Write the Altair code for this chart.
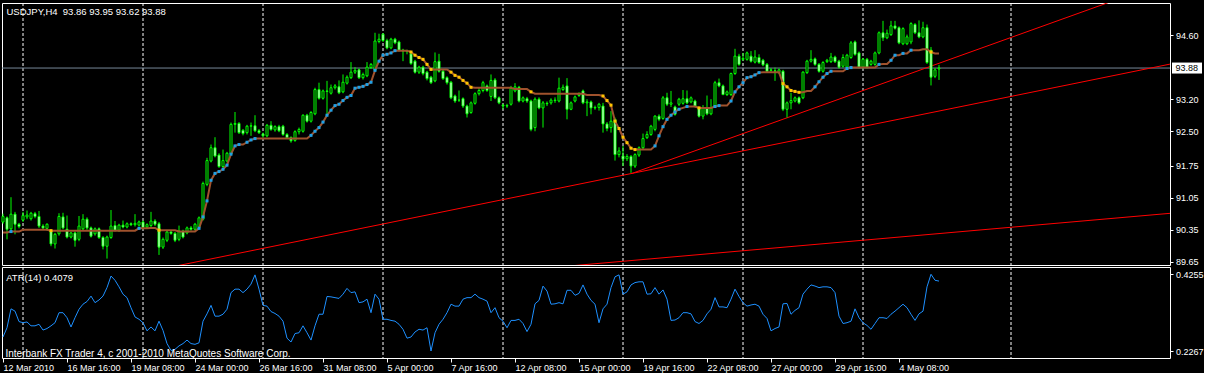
import altair as alt
import pandas as pd

symbol = "USDJPY,H4"

opens = [90.52,90.61,90.37,90.69,90.47,90.56,90.63,90.59,90.70,90.64,
90.43,90.38,90.32,90.04,90.26,90.63,90.36,90.19,90.28,90.14,
90.37,90.58,90.39,90.26,90.37,90.18,89.99,90.18,90.44,90.34,
90.45,90.41,90.48,90.46,90.45,90.52,90.41,90.44,90.54,90.48,
89.97,90.12,90.30,90.27,90.14,90.32,90.28,90.39,90.36,90.41,
90.58,91.34,91.85,92.14,91.98,91.73,91.85,92.00,92.65,92.67,
92.52,92.47,92.61,92.62,92.51,92.44,92.40,92.63,92.53,92.60,
92.61,92.43,92.36,92.30,92.49,92.50,92.85,92.72,92.88,93.41,
93.22,93.38,93.33,93.45,93.47,93.36,93.55,93.67,93.79,93.84,
93.67,93.71,93.89,93.83,94.46,94.62,94.48,94.32,94.51,94.45,
94.27,94.25,94.19,94.03,93.79,93.90,93.79,93.68,93.60,94.03,
93.81,93.67,93.57,93.27,93.18,93.21,93.05,92.91,93.11,93.32,
93.39,93.49,93.26,93.62,93.23,93.07,93.05,93.09,93.38,93.46,
93.16,93.21,93.16,92.58,93.20,93.01,93.11,93.12,93.18,93.16,
93.41,93.49,92.98,93.16,93.28,93.38,93.12,93.14,93.01,93.02,
93.05,92.66,92.58,92.76,91.99,91.96,91.90,91.95,91.74,91.98,
92.14,92.36,92.43,92.54,92.83,92.78,93.23,93.09,93.03,93.09,
93.11,93.21,93.14,93.16,93.00,92.83,93.00,92.88,93.05,93.56,
93.49,93.30,93.30,93.76,94.14,94.07,94.07,94.14,94.01,94.11,
94.05,93.96,93.83,93.82,93.78,93.81,92.98,93.12,93.16,93.23,
93.23,93.78,94.03,94.08,93.96,93.81,94.02,94.02,94.12,94.03,
93.92,93.90,94.11,94.45,94.21,93.90,94.07,93.96,93.96,94.21,
94.65,94.54,94.61,94.80,94.76,94.41,94.41,94.45,94.83,94.65,
94.56,94.76,94.27,93.70,93.86]

highs = [90.70,90.64,91.06,90.74,90.50,90.74,90.77,90.74,90.74,90.76,
90.47,90.49,90.36,90.28,90.71,90.72,90.66,90.30,90.31,90.65,
90.69,90.62,90.42,90.40,90.40,90.21,90.22,90.78,90.54,90.48,
90.55,90.51,90.51,90.69,90.55,90.55,90.49,90.74,90.58,90.52,
90.18,90.33,90.34,90.30,90.44,90.35,90.42,90.43,90.50,90.64,
91.40,91.92,92.21,92.37,92.02,92.10,92.05,92.69,92.92,92.70,
92.55,92.64,92.69,92.85,92.55,92.47,92.66,92.72,92.63,92.64,
92.64,92.46,92.39,92.52,92.58,92.87,92.88,92.94,93.45,93.56,
93.41,93.60,93.52,93.53,93.61,93.74,93.72,94.01,93.90,93.87,
93.78,94.01,93.99,94.65,94.63,94.64,94.52,94.54,94.54,94.48,
94.30,94.28,94.22,94.06,93.93,93.93,93.82,93.71,94.22,94.19,
93.85,93.70,93.60,93.30,93.39,93.24,93.08,93.15,93.35,93.45,
93.60,93.52,93.74,93.66,93.26,93.10,93.10,93.49,93.55,93.49,
93.26,93.25,93.19,93.24,93.24,93.16,93.15,93.22,93.24,93.67,
93.52,93.66,93.15,93.28,93.35,93.41,93.20,93.17,93.06,93.12,
93.12,92.70,92.94,92.80,92.15,92.18,92.00,91.98,92.02,92.17,
92.45,92.50,92.64,92.85,92.87,93.27,93.34,93.38,93.06,93.23,
93.40,93.39,93.26,93.19,93.03,93.07,93.28,93.20,93.60,93.65,
93.52,93.39,93.78,94.30,94.19,94.21,94.24,94.25,94.27,94.18,
94.08,93.99,93.88,93.89,93.87,93.84,93.15,93.34,93.26,93.26,
93.81,94.06,94.27,94.11,93.99,94.03,94.08,94.21,94.15,94.06,
94.18,94.19,94.47,94.48,94.24,94.10,94.10,94.06,94.24,94.68,
94.91,94.72,94.91,94.91,94.79,94.77,94.61,94.88,94.86,94.92,
94.89,94.83,94.34,93.88,93.95]

lows = [90.48,90.14,90.33,90.25,90.38,90.52,90.58,90.55,90.60,90.39,
90.36,90.33,89.99,89.94,90.22,90.36,90.16,90.16,89.98,90.10,
90.33,90.35,90.18,90.22,90.15,89.92,89.72,90.15,90.31,90.30,
90.38,90.38,90.43,90.42,90.42,90.36,90.38,90.41,90.43,89.80,
89.93,90.08,90.24,90.08,90.10,90.16,90.25,90.33,90.33,90.38,
90.55,91.30,91.82,91.93,91.70,91.70,91.82,91.97,92.47,92.44,
92.41,92.43,92.40,92.48,92.44,92.36,92.37,92.51,92.49,92.48,
92.40,92.33,92.25,92.27,92.43,92.47,92.69,92.69,92.85,93.19,
93.19,92.87,93.30,93.41,93.31,93.33,93.52,93.64,93.75,93.64,
93.63,93.68,93.86,93.80,94.42,94.45,94.29,94.29,94.40,94.24,
94.03,94.18,93.95,93.76,93.75,93.72,93.61,93.53,93.57,93.78,
93.62,93.52,93.20,93.12,93.14,93.01,92.80,92.88,93.08,93.28,
93.35,93.36,93.16,93.20,93.09,92.98,93.01,93.06,93.35,93.13,
93.13,93.12,92.50,92.50,92.98,92.58,93.05,93.08,93.12,93.13,
93.38,92.76,92.96,93.13,93.25,93.09,92.83,92.87,92.97,92.95,
92.47,92.50,92.47,91.86,91.93,91.74,91.85,91.59,91.70,91.94,
92.11,92.33,92.40,92.50,92.72,92.75,93.05,93.03,92.84,93.05,
93.08,93.09,93.11,93.02,92.80,92.76,92.85,92.85,93.02,93.46,
93.29,93.27,93.27,93.73,93.93,94.04,94.04,94.00,93.98,93.97,
93.92,93.78,93.80,93.60,93.75,92.94,92.80,92.98,93.13,93.09,
93.20,93.75,94.00,93.93,93.78,93.78,93.99,93.99,93.99,93.87,
93.89,93.87,94.08,94.15,93.87,93.87,93.87,93.93,93.93,94.18,
94.47,94.51,94.58,94.72,94.40,94.38,94.38,94.40,94.62,94.53,
94.53,93.97,93.50,93.66,93.62]

closes = [90.64,90.36,90.69,90.47,90.42,90.66,90.67,90.71,90.64,90.43,
90.39,90.47,90.04,90.25,90.64,90.39,90.19,90.28,90.12,90.43,
90.58,90.39,90.21,90.37,90.18,89.99,90.19,90.43,90.34,90.45,
90.41,90.48,90.46,90.49,90.52,90.40,90.46,90.54,90.47,89.97,
90.14,90.30,90.27,90.12,90.32,90.19,90.39,90.36,90.47,90.61,
91.36,91.86,92.14,91.96,91.73,91.86,92.02,92.65,92.67,92.47,
92.45,92.61,92.62,92.51,92.47,92.40,92.63,92.54,92.60,92.51,
92.43,92.36,92.29,92.49,92.54,92.85,92.72,92.91,93.41,93.22,
93.38,93.37,93.45,93.49,93.34,93.57,93.68,93.79,93.83,93.67,
93.74,93.90,93.96,94.47,94.51,94.48,94.32,94.51,94.43,94.27,
94.25,94.24,93.98,93.79,93.90,93.76,93.65,93.56,94.02,93.81,
93.65,93.56,93.23,93.16,93.18,93.05,92.88,93.12,93.32,93.39,
93.56,93.39,93.61,93.23,93.12,93.05,93.06,93.44,93.47,93.16,
93.23,93.16,92.54,93.20,93.01,93.12,93.10,93.18,93.17,93.44,
93.46,92.98,93.12,93.25,93.32,93.12,93.14,93.01,93.02,93.09,
92.66,92.56,92.72,91.99,92.07,91.89,91.95,91.74,91.99,92.14,
92.34,92.43,92.61,92.83,92.76,93.23,93.09,93.12,92.87,93.20,
93.21,93.12,93.23,93.05,92.83,93.00,92.88,93.01,93.56,93.49,
93.30,93.36,93.76,94.14,93.96,94.09,94.21,94.03,94.12,94.00,
93.95,93.81,93.84,93.81,93.84,92.98,93.12,93.17,93.23,93.12,
93.79,94.03,94.07,93.96,93.81,94.00,94.05,94.12,94.02,93.90,
94.11,94.16,94.43,94.18,93.90,94.07,93.90,94.03,94.21,94.65,
94.54,94.64,94.80,94.75,94.43,94.74,94.56,94.85,94.65,94.56,
94.76,94.00,93.68,93.84,93.88]

trend_ma = [90.29,90.29,90.31,90.31,90.31,90.35,90.35,90.35,90.35,90.35,
90.35,90.35,90.33,90.33,90.33,90.33,90.33,90.33,90.33,90.33,
90.33,90.33,90.33,90.33,90.33,90.33,90.33,90.33,90.33,90.33,
90.33,90.33,90.33,90.33,90.38,90.38,90.38,90.39,90.39,90.34,
90.34,90.34,90.34,90.34,90.31,90.31,90.31,90.31,90.31,90.38,
90.63,90.98,91.43,91.58,91.62,91.67,91.76,92.00,92.18,92.21,
92.21,92.26,92.31,92.34,92.34,92.34,92.34,92.34,92.34,92.34,
92.34,92.34,92.34,92.34,92.34,92.34,92.34,92.41,92.50,92.58,
92.70,92.85,92.96,93.06,93.09,93.17,93.24,93.28,93.44,93.46,
93.48,93.52,93.57,93.83,94.03,94.16,94.18,94.21,94.26,94.26,
94.26,94.26,94.23,94.16,94.11,94.07,93.96,93.85,93.85,93.85,
93.85,93.85,93.79,93.72,93.68,93.61,93.55,93.46,93.45,93.45,
93.45,93.45,93.45,93.45,93.45,93.45,93.45,93.45,93.42,93.42,
93.42,93.42,93.36,93.32,93.32,93.32,93.32,93.32,93.32,93.32,
93.32,93.32,93.32,93.32,93.32,93.32,93.29,93.29,93.29,93.29,
93.27,93.17,93.07,92.72,92.56,92.37,92.25,92.13,92.10,92.10,
92.10,92.10,92.10,92.18,92.40,92.60,92.76,92.85,92.92,92.98,
93.01,93.04,93.04,93.04,93.01,93.01,93.01,93.01,93.04,93.06,
93.06,93.06,93.16,93.36,93.47,93.56,93.67,93.69,93.73,93.78,
93.79,93.79,93.79,93.79,93.79,93.54,93.47,93.39,93.37,93.35,
93.35,93.38,93.38,93.47,93.58,93.68,93.76,93.81,93.81,93.81,
93.81,93.87,93.89,93.89,93.89,93.89,93.89,93.89,93.89,93.96,
93.97,93.97,94.05,94.16,94.16,94.20,94.20,94.27,94.27,94.27,
94.29,94.29,94.23,94.20,94.20]

up_dots = [2, 34, 49, 50, 51, 52, 53, 54, 55, 56, 57, 58, 59, 61, 62, 63,
           77, 78, 79, 80, 81, 82, 83, 84, 85, 86, 87, 88, 89, 90, 91, 92,
           93, 94, 95, 96, 97, 98, 163, 164, 165, 166, 167, 168, 169, 171,
           178, 179, 182, 183, 184, 185, 186, 187, 188, 189, 203, 204, 205,
           206, 207, 211, 212, 219, 222, 223, 225, 227]
down_dots = [12, 39, 102, 103, 104, 105, 106, 107, 112, 113, 114, 115, 116,
             117, 132, 150, 151, 152, 153, 154, 155, 156, 157, 158, 174,
             195, 196, 197, 198, 199, 232]

atr = [0.263,0.287,0.336,0.330,0.303,0.300,0.302,0.292,0.292,0.296,
0.281,0.285,0.292,0.300,0.326,0.326,0.313,0.289,0.313,0.335,
0.348,0.355,0.369,0.352,0.359,0.369,0.391,0.421,0.410,0.393,
0.374,0.365,0.339,0.315,0.309,0.300,0.279,0.289,0.279,0.304,
0.280,0.246,0.228,0.231,0.240,0.246,0.255,0.246,0.244,0.248,
0.304,0.323,0.345,0.317,0.317,0.322,0.335,0.378,0.387,0.387,
0.378,0.387,0.400,0.424,0.387,0.345,0.343,0.329,0.324,0.317,
0.304,0.260,0.250,0.272,0.274,0.292,0.274,0.255,0.292,0.322,
0.322,0.368,0.367,0.365,0.363,0.374,0.389,0.378,0.380,0.352,
0.354,0.361,0.326,0.374,0.361,0.309,0.309,0.306,0.304,0.296,
0.283,0.260,0.263,0.276,0.283,0.281,0.287,0.2267,0.274,0.296,
0.309,0.326,0.348,0.343,0.343,0.361,0.365,0.365,0.374,0.365,
0.361,0.356,0.326,0.339,0.313,0.304,0.287,0.306,0.306,0.309,
0.298,0.277,0.296,0.349,0.358,0.395,0.382,0.348,0.349,0.352,
0.349,0.384,0.384,0.371,0.376,0.398,0.374,0.358,0.348,0.300,
0.336,0.348,0.391,0.419,0.424,0.374,0.380,0.398,0.404,0.406,
0.406,0.374,0.375,0.391,0.374,0.385,0.361,0.306,0.307,0.313,
0.326,0.326,0.323,0.303,0.298,0.306,0.323,0.335,0.365,0.341,
0.341,0.339,0.361,0.387,0.368,0.352,0.343,0.346,0.348,0.343,
0.322,0.311,0.279,0.285,0.289,0.349,0.350,0.322,0.332,0.339,
0.374,0.387,0.398,0.395,0.391,0.393,0.393,0.391,0.378,0.317,
0.298,0.300,0.304,0.336,0.313,0.300,0.293,0.283,0.298,0.313,
0.313,0.311,0.322,0.330,0.339,0.348,0.339,0.322,0.306,0.323,
0.330,0.393,0.4255,0.410,0.4079]

time_labels = ["12 Mar 2010", "16 Mar 16:00", "19 Mar 08:00", "24 Mar 00:00",
               "26 Mar 16:00", "31 Mar 08:00", "5 Apr 00:00", "7 Apr 16:00",
               "12 Apr 08:00", "15 Apr 00:00", "19 Apr 16:00", "22 Apr 08:00",
               "27 Apr 00:00", "29 Apr 16:00", "4 May 08:00"]
label_bars = [0, 16, 32, 48, 64, 80, 96, 112, 128, 144, 160, 176, 192, 208, 224]
grid_bars = [5, 35, 65, 95, 125, 155, 185, 215, 252]
price_ticks = [89.65, 90.35, 91.05, 91.75, 92.50, 93.20, 94.60]
atr_ticks = [0.2267, 0.4255]
bid = 93.88

trend_names = ["A", "A", "B", "B", "C", "C"]
trend_bars = [40, 292, 157.25, 292, 130, 292]
trend_prices = [89.50, 93.97, 91.58, 95.80, 89.47, 90.71]

copyright_text = "Interbank FX Trader 4, c 2001-2010 MetaQuotes Software Corp."

# ---------------------------------------------------------------
FONT = "Liberation Sans, Arial, sans-serif"
LIME = "#00FF00"
W = 1168

n = len(closes)
bars = pd.DataFrame({"i": list(range(n)), "o": opens, "h": highs, "l": lows,
                     "c": closes, "ma": trend_ma, "atr": atr})

xs = alt.Scale(domain=[-0.25, 291.75], nice=False, zero=False)
ys = alt.Scale(domain=[89.58, 95.30], nice=False, zero=False)
atr_s = alt.Scale(domain=[0.2086, 0.4444], nice=False, zero=False)

yax = alt.Axis(orient="right", values=price_ticks, format=".2f", title=None,
               tickSize=3, labelPadding=2.5, labelOverlap=False, labelFontSize=9)
atr_ax = alt.Axis(orient="right", values=atr_ticks, format=".4f", title=None,
                  tickSize=3, labelPadding=2.5, labelOverlap=False, labelFontSize=9)
lab_js = "[" + ",".join("'%s'" % t for t in time_labels) + "]"
bars_js = "[" + ",".join(str(b) for b in label_bars) + "]"
xax = alt.Axis(values=label_bars, title=None, tickSize=4,
               labelExpr=lab_js + "[indexof(" + bars_js + ", datum.value)]",
               labelAlign="left", labelBaseline="alphabetic", labelPadding=8.5,
               labelFlush=False, labelOverlap=False, labelFontSize=9)

X = alt.X("i:Q", scale=xs, axis=None)

grid_df = pd.DataFrame({"i": grid_bars})
grid = alt.Chart(grid_df).mark_rule(color="white", strokeDash=[3, 2]).encode(x=X)

bid_df = pd.DataFrame({"p": [bid]})
bidline = alt.Chart(bid_df).mark_rule(color="#778899").encode(
    y=alt.Y("p:Q", scale=ys, axis=yax))

tr_df = pd.DataFrame({"name": trend_names, "i": trend_bars, "p": trend_prices})
trends = alt.Chart(tr_df).mark_line(color="#FF0000", strokeWidth=1, clip=True).encode(
    x=X, y=alt.Y("p:Q", scale=ys, axis=yax), detail="name:N")

wicks = alt.Chart(bars).mark_rule(color=LIME, strokeWidth=1).encode(
    x=X, y=alt.Y("l:Q", scale=ys, axis=yax), y2="h:Q")

bodies = alt.Chart(bars).transform_calculate(
    lo="min(datum.o, datum.c)", hi="max(datum.o, datum.c)",
    xa="datum.i - 0.25", xb="datum.i + 0.25",
    fc="datum.c >= datum.o ? 'black' : 'white'"
).mark_rect(stroke=LIME, strokeWidth=1).encode(
    x=alt.X("xa:Q", scale=xs, axis=None), x2="xb:Q",
    y=alt.Y("lo:Q", scale=ys, axis=yax), y2="hi:Q",
    fill=alt.Fill("fc:N", scale=None))

maline = alt.Chart(bars).mark_line(color="#A0522D", strokeWidth=2).encode(
    x=X, y=alt.Y("ma:Q", scale=ys, axis=yax))

dots_df = pd.DataFrame({
    "i": up_dots + down_dots,
    "p": [trend_ma[k] for k in up_dots] + [trend_ma[k] for k in down_dots],
    "col": ["#1EA0E6"] * len(up_dots) + ["#FFC400"] * len(down_dots)})
dots = alt.Chart(dots_df).mark_square(size=9, opacity=1, filled=True).encode(
    x=X, y=alt.Y("p:Q", scale=ys, axis=yax), color=alt.Color("col:N", scale=None))

title_text = "%s \u00a0%.2f %.2f %.2f %.2f" % (symbol, opens[-1], highs[-1], lows[-1], closes[-1])
title = alt.Chart(pd.DataFrame({"t": [title_text]})).mark_text(
    align="left", baseline="alphabetic", color="white", font=FONT, fontSize=9.5
).encode(x=alt.value(4.5), y=alt.value(12), text="t:N")

bid_box = alt.Chart(bid_df).transform_calculate(
    p1="datum.p - 0.12", p2="datum.p + 0.12"
).mark_rect(color="white").encode(
    x=alt.value(1170), x2=alt.value(1200),
    y=alt.Y("p1:Q", scale=ys, axis=yax), y2="p2:Q")
bid_txt = alt.Chart(bid_df).mark_text(
    align="left", baseline="middle", color="black", font=FONT, fontSize=9
).encode(x=alt.value(1173.5), y=alt.Y("p:Q", scale=ys, axis=yax),
         text=alt.Text("p:Q", format=".2f"))

main = alt.layer(grid, bidline, trends, wicks, bodies, maline, dots, title,
                 bid_box, bid_txt).properties(width=W, height=262)

XA = alt.X("i:Q", scale=xs, axis=xax)
grid2 = alt.Chart(grid_df).mark_rule(color="white", strokeDash=[3, 2]).encode(x=XA)
atr_line = alt.Chart(bars).mark_line(color="#1E90FF", strokeWidth=1).encode(
    x=XA, y=alt.Y("atr:Q", scale=atr_s, axis=atr_ax))
atr_title = alt.Chart(pd.DataFrame({"t": ["ATR(14) %.4f" % atr[-1]]})).mark_text(
    align="left", baseline="alphabetic", color="white", font=FONT, fontSize=9.5
).encode(x=alt.value(4.2), y=alt.value(13.5), text="t:N")
copy_txt = alt.Chart(pd.DataFrame({"t": [copyright_text]})).mark_text(
    align="left", baseline="alphabetic", color="white", font=FONT, fontSize=10
).encode(x=alt.value(3.5), y=alt.value(89.5), text="t:N")

lower = alt.layer(grid2, atr_line, atr_title, copy_txt).properties(width=W, height=91)

chart = alt.vconcat(main, lower, spacing=2, bounds="flush").properties(
    background="black",
    padding={"left": -2, "top": 2, "right": 0, "bottom": 0},
).configure_view(stroke="white", strokeWidth=1, fill="black").configure_axis(
    labelColor="white", tickColor="white", domain=False, grid=False,
    labelFont=FONT, labelFontSize=9, tickWidth=1)

chart.save("out.html", embed_options={"renderer": "svg", "actions": False})
